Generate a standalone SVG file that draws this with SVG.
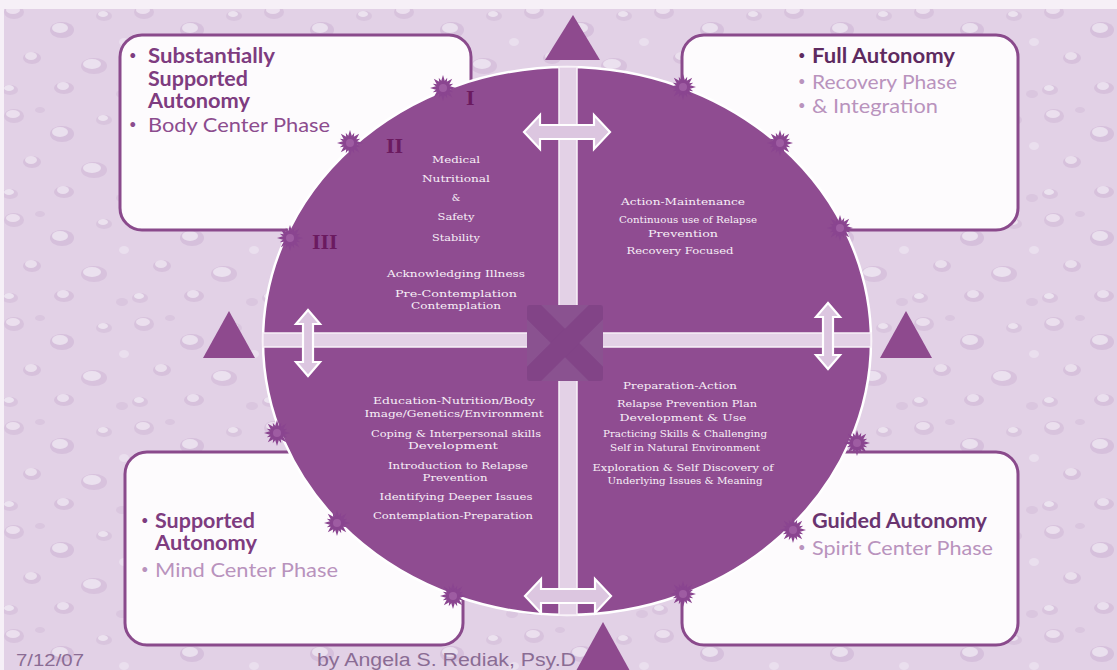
<svg xmlns="http://www.w3.org/2000/svg" width="1117" height="670" viewBox="0 0 1117 670">
  <defs>
    <style>
      .box { fill: #fdfbfd; stroke: #8a4a8c; stroke-width: 3; }
      .hd { font-family: Lato, "Open Sans", sans-serif; font-size: 20px; font-weight: bold; fill: #7e3c80; }
      .lt { font-family: Lato, "Open Sans", sans-serif; font-size: 20px; fill: #b993bd; }
      .bl { font-family: Lato, "Open Sans", sans-serif; font-size: 13px; }
      .q { font-family: "DejaVu Serif", "Liberation Serif", serif; font-size: 9.5px; fill: #f7eff7; text-anchor: middle; }
      .rn { font-family: "Liberation Serif", serif; font-size: 22px; font-weight: bold; fill: #6b1a60; }
      .tri { fill: #8e4a8e; }
      .dbl { fill: #dcc6e0; stroke: #ffffff; stroke-width: 2.2; stroke-linejoin: miter; }
      .bar { fill: #e3d1e6; stroke: #f8f0f8; stroke-width: 1.5; }
      .ft { font-family: "Liberation Sans", Arial, sans-serif; fill: #8a6c94; }
    </style>
    <pattern id="bubbles" width="130" height="104" patternUnits="userSpaceOnUse">
      <rect width="130" height="104" fill="#e2d1e6"/>
      <ellipse cx="14" cy="12" rx="10" ry="7" fill="#d8c3dd"/>
      <ellipse cx="13" cy="10" rx="7" ry="4" fill="#ebdfee"/>
      <ellipse cx="62" cy="30" rx="12" ry="8" fill="#d6c0dc"/>
      <ellipse cx="60" cy="28" rx="8" ry="5" fill="#eae0ee"/>
      <ellipse cx="104" cy="16" rx="8" ry="5" fill="#d9c5de"/>
      <ellipse cx="103" cy="14" rx="5" ry="3" fill="#ece2ef"/>
      <ellipse cx="32" cy="58" rx="9" ry="6" fill="#d7c1dc"/>
      <ellipse cx="31" cy="56" rx="6" ry="4" fill="#eadfed"/>
      <ellipse cx="94" cy="66" rx="13" ry="8" fill="#d8c2dd"/>
      <ellipse cx="92" cy="64" rx="9" ry="5" fill="#ebe1ef"/>
      <ellipse cx="10" cy="90" rx="8" ry="5" fill="#d9c4de"/>
      <ellipse cx="9" cy="88" rx="5" ry="3" fill="#ece3f0"/>
      <ellipse cx="64" cy="88" rx="10" ry="6" fill="#d7c1dc"/>
      <ellipse cx="63" cy="86" rx="6" ry="4" fill="#eadfee"/>
      <ellipse cx="122" cy="94" rx="6" ry="4" fill="#dac6df"/>
      <ellipse cx="40" cy="6" rx="5" ry="3" fill="#dac6df"/>
      <ellipse cx="124" cy="42" rx="5" ry="4" fill="#eadfee"/>
    </pattern>
    <!-- spiky burst marking the rim of the circle -->
    <path id="burst" d="M13 0 L5.54 2.3 L9.19 9.19 L2.3 5.54 L0 13 L-2.3 5.54 L-9.19 9.19 L-5.54 2.3 L-13 0 L-5.54 -2.3 L-9.19 -9.19 L-2.3 -5.54 L0 -13 L2.3 -5.54 L9.19 -9.19 L5.54 -2.3 Z"/>
    <g id="star">
      <use href="#burst" fill="#8a4590"/>
      <use href="#burst" fill="#8a4590" transform="rotate(22.5) scale(0.85)"/>
      <circle r="4" fill="#9e5ca2"/>
    </g>
    <path id="dblH" d="M-43 0 L-27 -17 L-27 -7 L27 -7 L27 -17 L43 0 L27 17 L27 7 L-27 7 L-27 17 Z"/>
    <path id="dblV" d="M0 -33 L-12 -19 L-5 -19 L-5 19 L-12 19 L0 33 L12 19 L5 19 L5 -19 L12 -19 Z"/>
    <clipPath id="hubClip"><rect x="527" y="305" width="76" height="76" rx="3"/></clipPath>
  </defs>

  <!-- textured backdrop -->
  <rect width="1117" height="670" fill="#f6f0f7"/>
  <rect x="4" y="9" width="1113" height="661" fill="url(#bubbles)"/>

  <!-- corner boxes -->
  <g id="box-substantially">
    <rect class="box" x="120" y="35" width="351" height="195" rx="22"/>
    <text class="bl" x="129" y="60" fill="#7e3c80">•</text>
    <text class="hd" x="148" y="63" textLength="127" lengthAdjust="spacingAndGlyphs">Substantially</text>
    <text class="hd" x="148" y="86" textLength="100" lengthAdjust="spacingAndGlyphs">Supported</text>
    <text class="hd" x="148" y="108" textLength="102" lengthAdjust="spacingAndGlyphs">Autonomy</text>
    <text class="bl" x="129" y="129" fill="#8c4c8e">•</text>
    <text class="hd" x="148" y="132" style="font-weight:normal;fill:#8c4c8e" textLength="182" lengthAdjust="spacingAndGlyphs">Body Center Phase</text>
  </g>
  <g id="box-full">
    <rect class="box" x="682" y="35" width="336" height="195" rx="22"/>
    <text class="bl" x="798" y="60" fill="#5e2a60">•</text>
    <text class="hd" x="812" y="63" style="fill:#5e2a60" textLength="143" lengthAdjust="spacingAndGlyphs">Full Autonomy</text>
    <text class="bl" x="798" y="86" fill="#b993bd">•</text>
    <text class="lt" x="812" y="89" textLength="145" lengthAdjust="spacingAndGlyphs">Recovery Phase</text>
    <text class="bl" x="798" y="110" fill="#b993bd">•</text>
    <text class="lt" x="812" y="113" textLength="126" lengthAdjust="spacingAndGlyphs">&amp; Integration</text>
  </g>
  <g id="box-supported">
    <rect class="box" x="125" y="452" width="338" height="193" rx="22"/>
    <text class="bl" x="141" y="525" fill="#7e3c80">•</text>
    <text class="hd" x="155" y="528" textLength="100" lengthAdjust="spacingAndGlyphs">Supported</text>
    <text class="hd" x="155" y="550" textLength="102" lengthAdjust="spacingAndGlyphs">Autonomy</text>
    <text class="bl" x="141" y="574" fill="#b993bd">•</text>
    <text class="lt" x="155" y="577" textLength="183" lengthAdjust="spacingAndGlyphs">Mind Center Phase</text>
  </g>
  <g id="box-guided">
    <rect class="box" x="682" y="452" width="336" height="193" rx="22"/>
    <text class="hd" x="812" y="528" style="fill:#6a3470" textLength="175" lengthAdjust="spacingAndGlyphs">Guided Autonomy</text>
    <text class="bl" x="798" y="552" fill="#b993bd">•</text>
    <text class="lt" x="812" y="555" textLength="181" lengthAdjust="spacingAndGlyphs">Spirit Center Phase</text>
  </g>

  <!-- central circle -->
  <g id="circle">
    <ellipse cx="567" cy="341" rx="304" ry="274" fill="#8f4c91" stroke="#ffffff" stroke-width="2.5"/>
  </g>

  <!-- cross bars, hub and arrows -->
  <g id="connectors">
    <rect class="bar" x="559" y="67" width="18" height="251"/>
    <polygon class="bar" points="559,318 577,318 568,329"/>
    <rect class="bar" x="559" y="372" width="18" height="243"/>
    <polygon class="bar" points="559,372 577,372 568,362"/>
    <rect class="bar" x="263" y="333" width="270" height="14"/>
    <polygon class="bar" points="533,333 533,347 544,340"/>
    <rect class="bar" x="598" y="333" width="273" height="14"/>
    <polygon class="bar" points="598,333 598,347 588,340"/>
    <g id="hub">
      <rect x="527" y="305" width="76" height="76" rx="3" fill="#8a5290"/>
      <g clip-path="url(#hubClip)" stroke="#824487" stroke-width="20">
        <line x1="527" y1="305" x2="603" y2="381"/>
        <line x1="603" y1="305" x2="527" y2="381"/>
      </g>
    </g>
    <use href="#dblH" class="dbl" x="567" y="132"/>
    <use href="#dblH" class="dbl" x="568" y="596"/>
    <use href="#dblV" class="dbl" x="308" y="343"/>
    <use href="#dblV" class="dbl" x="828" y="336"/>
  </g>

  <!-- rim bursts -->
  <g id="bursts">
    <use href="#star" x="443" y="88"/>
    <use href="#star" x="350" y="143"/>
    <use href="#star" x="290" y="238"/>
    <use href="#star" x="277" y="433"/>
    <use href="#star" x="337" y="523"/>
    <use href="#star" x="453" y="596"/>
    <use href="#star" x="683" y="87"/>
    <use href="#star" x="780" y="143"/>
    <use href="#star" x="840" y="228"/>
    <use href="#star" x="857" y="443"/>
    <use href="#star" x="793" y="530"/>
    <use href="#star" x="683" y="594"/>
  </g>

  <!-- stage numerals -->
  <g id="numerals">
    <text class="rn" x="466" y="105">I</text>
    <text class="rn" x="386" y="153">II</text>
    <text class="rn" x="312" y="249">III</text>
  </g>

  <!-- quadrant notes -->
  <g id="quadrant-body">
    <text class="q" x="456" y="162.5" textLength="48" lengthAdjust="spacingAndGlyphs">Medical</text>
    <text class="q" x="456" y="181.5" textLength="68" lengthAdjust="spacingAndGlyphs">Nutritional</text>
    <text class="q" x="456" y="200.5">&amp;</text>
    <text class="q" x="456" y="219.5" textLength="37" lengthAdjust="spacingAndGlyphs">Safety</text>
    <text class="q" x="456" y="240.5" textLength="48" lengthAdjust="spacingAndGlyphs">Stability</text>
    <text class="q" x="456" y="276.5" textLength="138" lengthAdjust="spacingAndGlyphs">Acknowledging Illness</text>
    <text class="q" x="456" y="296.5" textLength="122" lengthAdjust="spacingAndGlyphs">Pre-Contemplation</text>
    <text class="q" x="456" y="308.5" textLength="90" lengthAdjust="spacingAndGlyphs">Contemplation</text>
  </g>
  <g id="quadrant-recovery">
    <text class="q" x="683" y="204.5" textLength="124" lengthAdjust="spacingAndGlyphs">Action-Maintenance</text>
    <text class="q" x="688" y="222.5" textLength="138" lengthAdjust="spacingAndGlyphs">Continuous use of Relapse</text>
    <text class="q" x="683" y="236.5" textLength="70" lengthAdjust="spacingAndGlyphs">Prevention</text>
    <text class="q" x="680" y="253.5" textLength="107" lengthAdjust="spacingAndGlyphs">Recovery Focused</text>
  </g>
  <g id="quadrant-mind">
    <text class="q" x="454" y="403.5" textLength="162" lengthAdjust="spacingAndGlyphs">Education-Nutrition/Body</text>
    <text class="q" x="454" y="416.5" textLength="179" lengthAdjust="spacingAndGlyphs">Image/Genetics/Environment</text>
    <text class="q" x="456" y="436.5" textLength="170" lengthAdjust="spacingAndGlyphs">Coping &amp; Interpersonal skills</text>
    <text class="q" x="453" y="448.5" textLength="90" lengthAdjust="spacingAndGlyphs">Development</text>
    <text class="q" x="458" y="468.5" textLength="140" lengthAdjust="spacingAndGlyphs">Introduction to Relapse</text>
    <text class="q" x="455" y="480.5" textLength="65" lengthAdjust="spacingAndGlyphs">Prevention</text>
    <text class="q" x="456" y="499.5" textLength="153" lengthAdjust="spacingAndGlyphs">Identifying Deeper Issues</text>
    <text class="q" x="453" y="518.5" textLength="160" lengthAdjust="spacingAndGlyphs">Contemplation-Preparation</text>
  </g>
  <g id="quadrant-spirit">
    <text class="q" x="680" y="388.5" textLength="114" lengthAdjust="spacingAndGlyphs">Preparation-Action</text>
    <text class="q" x="687" y="406.5" textLength="140" lengthAdjust="spacingAndGlyphs">Relapse Prevention Plan</text>
    <text class="q" x="683" y="420.5" textLength="127" lengthAdjust="spacingAndGlyphs">Development &amp; Use</text>
    <text class="q" x="685" y="436.5" textLength="164" lengthAdjust="spacingAndGlyphs">Practicing Skills &amp; Challenging</text>
    <text class="q" x="685" y="450.5" textLength="150" lengthAdjust="spacingAndGlyphs">Self in Natural Environment</text>
    <text class="q" x="683" y="470.5" textLength="181" lengthAdjust="spacingAndGlyphs">Exploration &amp; Self Discovery of</text>
    <text class="q" x="685" y="483.5" textLength="155" lengthAdjust="spacingAndGlyphs">Underlying Issues &amp; Meaning</text>
  </g>

  <!-- direction triangles -->
  <g id="triangles">
    <polygon class="tri" points="573,15 600,60 545,60"/>
    <polygon class="tri" points="229,311 255,358 203,358"/>
    <polygon class="tri" points="906,311 932,358 880,358"/>
    <polygon class="tri" points="603,622 635,680 571,680"/>
  </g>

  <!-- footer -->
  <g id="footer">
    <text class="ft" x="16" y="666" font-size="16" textLength="68" lengthAdjust="spacingAndGlyphs">7/12/07</text>
    <text class="ft" x="317" y="666" font-size="18" textLength="259" lengthAdjust="spacingAndGlyphs">by Angela S. Rediak, Psy.D</text>
  </g>
</svg>
